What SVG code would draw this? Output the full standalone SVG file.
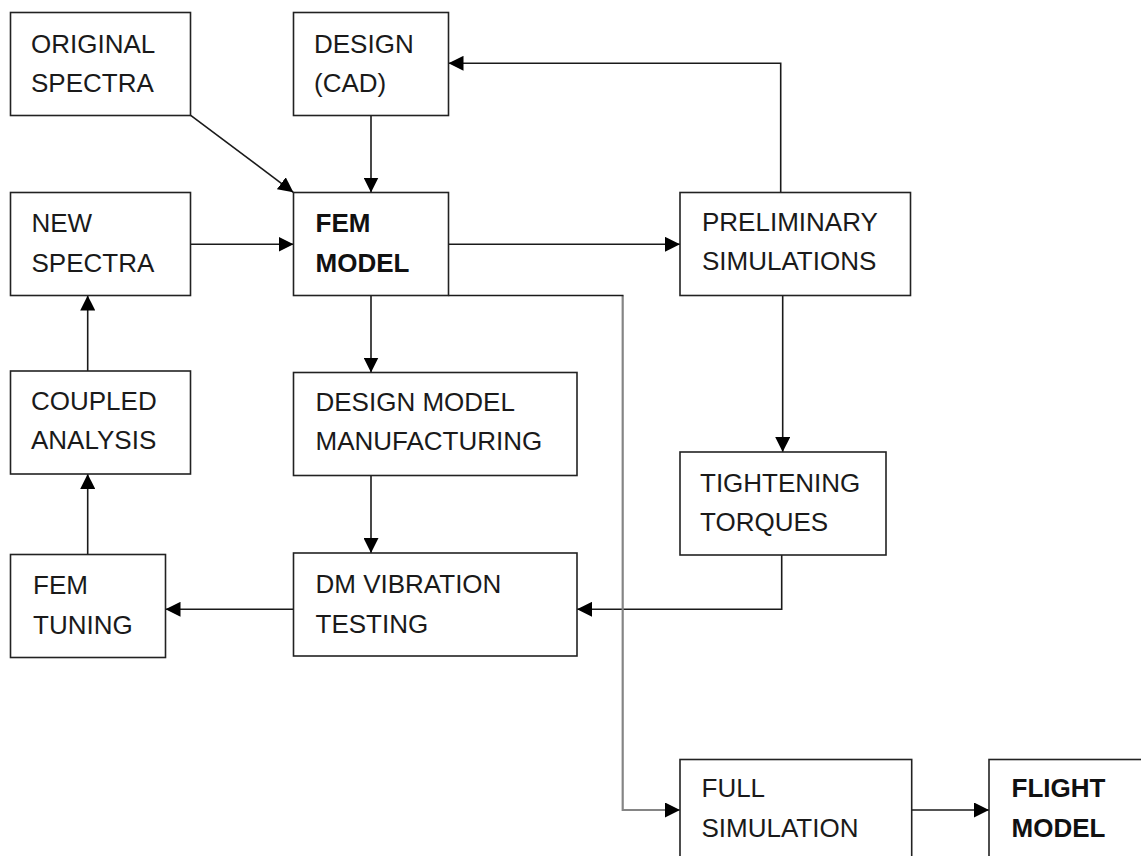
<svg xmlns="http://www.w3.org/2000/svg" width="1141" height="856" viewBox="0 0 1141 856">
<style>
.box{fill:#fff;stroke:#222;stroke-width:1.6}
.t{font-family:"Liberation Sans",Arial,sans-serif;font-size:26px;fill:#1a1a1a}
.b{font-weight:bold;fill:#111}
.c{fill:none;stroke:#1a1a1a;stroke-width:1.6}
.g{fill:none;stroke:#858585;stroke-width:2.2}
</style>
<defs>
<marker id="ah" viewBox="0 0 15 15" refX="15" refY="7.5" markerWidth="15" markerHeight="15" markerUnits="userSpaceOnUse" orient="auto">
<path d="M0,0 L15,7.5 L0,15 z" fill="#000"/>
</marker>
</defs>
<rect width="1141" height="856" fill="#fff"/>
<g id="connectors">
<path class="c" d="M190.7,115.3 L293.3,192.3" marker-end="url(#ah)"/>
<path class="c" d="M371,115.5 V192.5" marker-end="url(#ah)"/>
<path class="c" d="M190.5,244.3 H293.5" marker-end="url(#ah)"/>
<path class="c" d="M448.5,244.3 H680" marker-end="url(#ah)"/>
<path class="c" d="M780.7,192.5 V63.3 H448.5" marker-end="url(#ah)"/>
<path class="c" d="M371,295.5 V372.5" marker-end="url(#ah)"/>
<path class="c" d="M371,475.5 V553" marker-end="url(#ah)"/>
<path class="c" d="M782.7,295.5 V452" marker-end="url(#ah)"/>
<path class="c" d="M781.7,555 V609.3 H577" marker-end="url(#ah)"/>
<path class="c" d="M293.5,609.3 H165.5" marker-end="url(#ah)"/>
<path class="c" d="M87.7,554.5 V474" marker-end="url(#ah)"/>
<path class="c" d="M87.7,371 V295.5" marker-end="url(#ah)"/>
<path class="g" d="M622.7,295.5 V810 H680" marker-end="url(#ah)"/>
<path class="c" d="M448.5,295.5 H623.5"/>
<path class="c" d="M911.7,810 H989" marker-end="url(#ah)"/>
</g>
<g id="original-spectra">
<rect class="box" x="10.5" y="12.5" width="180" height="103"/>
<text class="t" x="31" y="52.5">ORIGINAL</text>
<text class="t" x="31" y="92">SPECTRA</text>
</g>
<g id="design-cad">
<rect class="box" x="293.5" y="12.5" width="155" height="103"/>
<text class="t" x="314" y="52.5">DESIGN</text>
<text class="t" x="314" y="92">(CAD)</text>
</g>
<g id="new-spectra">
<rect class="box" x="10.5" y="192.5" width="180" height="103"/>
<text class="t" x="31.5" y="232.3">NEW</text>
<text class="t" x="31.5" y="271.7">SPECTRA</text>
</g>
<g id="fem-model">
<rect class="box" x="293.5" y="192.5" width="155" height="103"/>
<text class="t b" x="315.5" y="232.3">FEM</text>
<text class="t b" x="315.5" y="271.7">MODEL</text>
</g>
<g id="preliminary-simulations">
<rect class="box" x="680" y="192.5" width="230.5" height="103"/>
<text class="t" x="702" y="231">PRELIMINARY</text>
<text class="t" x="702" y="270">SIMULATIONS</text>
</g>
<g id="coupled-analysis">
<rect class="box" x="10.5" y="371" width="180" height="103"/>
<text class="t" x="31" y="409.5">COUPLED</text>
<text class="t" x="31" y="449">ANALYSIS</text>
</g>
<g id="design-model-manufacturing">
<rect class="box" x="293.5" y="372.5" width="283.5" height="103"/>
<text class="t" x="315.5" y="410.5">DESIGN MODEL</text>
<text class="t" x="315.5" y="450">MANUFACTURING</text>
</g>
<g id="tightening-torques">
<rect class="box" x="680" y="452" width="206" height="103"/>
<text class="t" x="700" y="491.7">TIGHTENING</text>
<text class="t" x="700" y="530.5">TORQUES</text>
</g>
<g id="fem-tuning">
<rect class="box" x="10.5" y="554.5" width="155" height="103"/>
<text class="t" x="33" y="594.3">FEM</text>
<text class="t" x="33" y="634">TUNING</text>
</g>
<g id="dm-vibration-testing">
<rect class="box" x="293.5" y="553" width="283.5" height="103"/>
<text class="t" x="315.5" y="593">DM VIBRATION</text>
<text class="t" x="315.5" y="632.5">TESTING</text>
</g>
<g id="full-simulation">
<rect class="box" x="680" y="759.5" width="231.7" height="120"/>
<text class="t" x="701.5" y="797.3">FULL</text>
<text class="t" x="701.5" y="836.7">SIMULATION</text>
</g>
<g id="flight-model">
<rect class="box" x="989" y="759.5" width="170" height="120"/>
<text class="t b" x="1011.5" y="796.7">FLIGHT</text>
<text class="t b" x="1011.5" y="836.7">MODEL</text>
</g>
</svg>
